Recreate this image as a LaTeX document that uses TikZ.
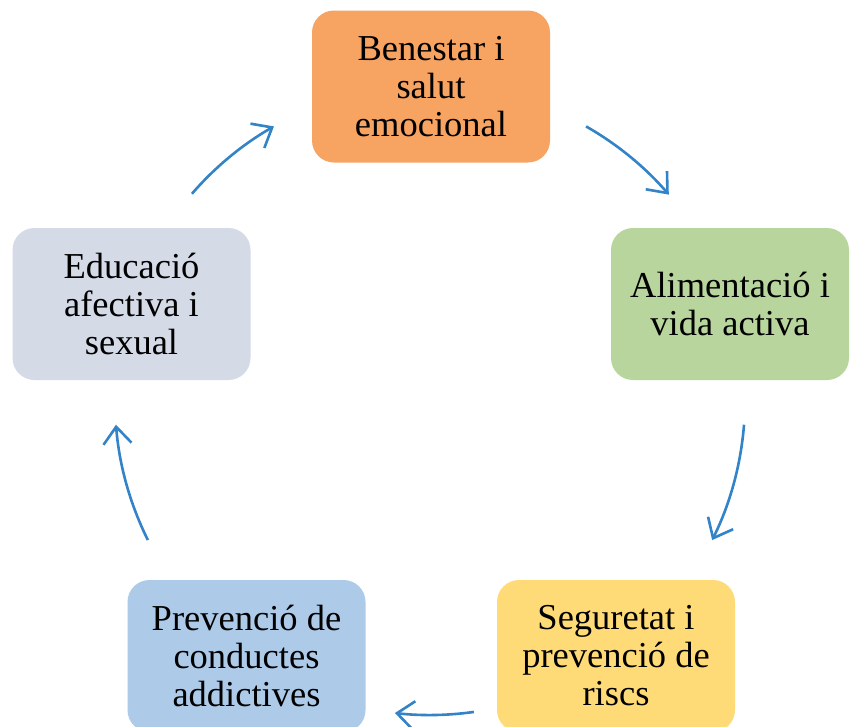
\documentclass[tikz,border=0pt]{standalone}
\usepackage{fontspec}
\setmainfont{Liberation Serif}
\usetikzlibrary{arrows.meta,calc}
\definecolor{cOrange}{HTML}{F7A362}
\definecolor{cGreen}{HTML}{B8D59D}
\definecolor{cGrey}{HTML}{D4DAE6}
\definecolor{cBlue}{HTML}{ADCBE9}
\definecolor{cYellow}{HTML}{FFDB77}
\definecolor{cArrow}{HTML}{3283C8}
\begin{document}
\begin{tikzpicture}[x=1pt,y=-1pt,
  box/.style={rounded corners=22pt, minimum width=238pt, minimum height=152pt,
    inner sep=0pt, align=center, font=\fontsize{36.5}{38}\selectfont, text=black},
  cyc/.style={draw=cArrow, line width=2.6pt, -{Straight Barb[length=17pt,width=28pt,line width=2.6pt]}}]
\clip (0,0) rectangle (853,726);
\fill[white] (0,0) rectangle (853,726);
\node[box, fill=cOrange] (b1) at (431,86.5) {Benestar i\\salut\\emocional};
\node[box, fill=cGreen] (b2) at (730,304) {Alimentació i\\vida activa};
\node[box, fill=cYellow] (b3) at (616,656) {Seguretat i\\prevenció de\\riscs};
\node[box, fill=cBlue] (b4) at (246.5,656) {Prevenció de\\conductes\\addictives};
\node[box, fill=cGrey] (b5) at (131.5,304) {Educació\\afectiva i\\sexual};
\coordinate (c) at (430,400);
\coordinate (s1) at ($(c)+(-60.3:315)$);
\coordinate (s2) at ($(c)+(4.5:315)$);
\coordinate (s3) at ($(c)+(82:315)$);
\coordinate (s4) at ($(c)+(153.6:315)$);
\coordinate (s5) at ($(c)+(220.9:315)$);
\draw[cyc] (s1) arc[start angle=-60.3, end angle=-40.7, radius=315];
\draw[cyc] (s2) arc[start angle=4.5, end angle=26.4, radius=315];
\draw[cyc] (s3) arc[start angle=82, end angle=96.4, radius=315];
\draw[cyc] (s4) arc[start angle=153.6, end angle=175.5, radius=315];
\draw[cyc] (s5) arc[start angle=220.9, end angle=240.3, radius=315];
\end{tikzpicture}
\end{document}
